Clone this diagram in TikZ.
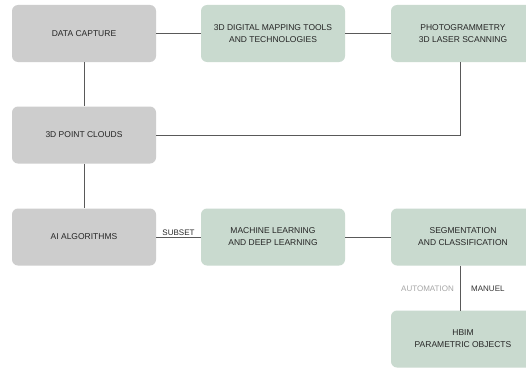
\documentclass[tikz,border=0pt]{standalone}
\usepackage{fontspec}
\setmainfont{Liberation Sans}
\begin{document}
\begin{tikzpicture}[x=1pt,y=-1pt,
  box/.style={rounded corners=6pt, minimum width=144pt, minimum height=57pt, inner sep=0pt, align=center, font=\fontsize{8.5}{12}\selectfont, text=black!85},
  graybox/.style={box, fill=gboxc},
  greenbox/.style={box, fill=grboxc},
  conn/.style={draw=black!65, line width=0.9pt},
  lbl/.style={font=\fontsize{8}{9}\selectfont, inner sep=1pt}
]
\definecolor{gboxc}{HTML}{CDCDCD}
\definecolor{grboxc}{HTML}{C9DACF}
\useasboundingbox (0,0) rectangle (526,369);
\fill[white] (0,0) rectangle (526,369);
\node[graybox] (dc) at (84,33.5) {DATA CAPTURE};
\node[greenbox] (tools) at (273,33.5) {3D DIGITAL MAPPING TOOLS\\AND TECHNOLOGIES};
\node[greenbox] (photo) at (463,33.5) {PHOTOGRAMMETRY\\3D LASER SCANNING};
\node[graybox] (pc) at (84,135) {3D POINT CLOUDS};
\node[graybox] (ai) at (84,237) {AI ALGORITHMS};
\node[greenbox] (ml) at (273,237) {MACHINE LEARNING\\AND DEEP LEARNING};
\node[greenbox] (seg) at (463,237) {SEGMENTATION\\AND CLASSIFICATION};
\node[greenbox] (hbim) at (463,339) {HBIM\\PARAMETRIC OBJECTS};
\coordinate (ptop) at (460,62);
\coordinate (pturn) at (460,135);
\coordinate (stop) at (460,265.5);
\coordinate (htop) at (460,310.5);
\draw[conn] (dc) -- (tools);
\draw[conn] (tools) -- (photo);
\draw[conn] (dc) -- (pc);
\draw[conn] (pc) -- (ai);
\draw[conn] (ptop) -- (pturn) -- (pc.east);
\draw[conn] (ai) -- node[lbl, above, text=black!85] {SUBSET} (ml);
\draw[conn] (ml) -- (seg);
\draw[conn] (stop) -- (htop);
\node[lbl, text=black!35, anchor=east] (auto) at (455,289) {AUTOMATION};
\node[lbl, text=black!80, anchor=west] (man) at (470,289) {MANUEL};
\end{tikzpicture}
\end{document}
